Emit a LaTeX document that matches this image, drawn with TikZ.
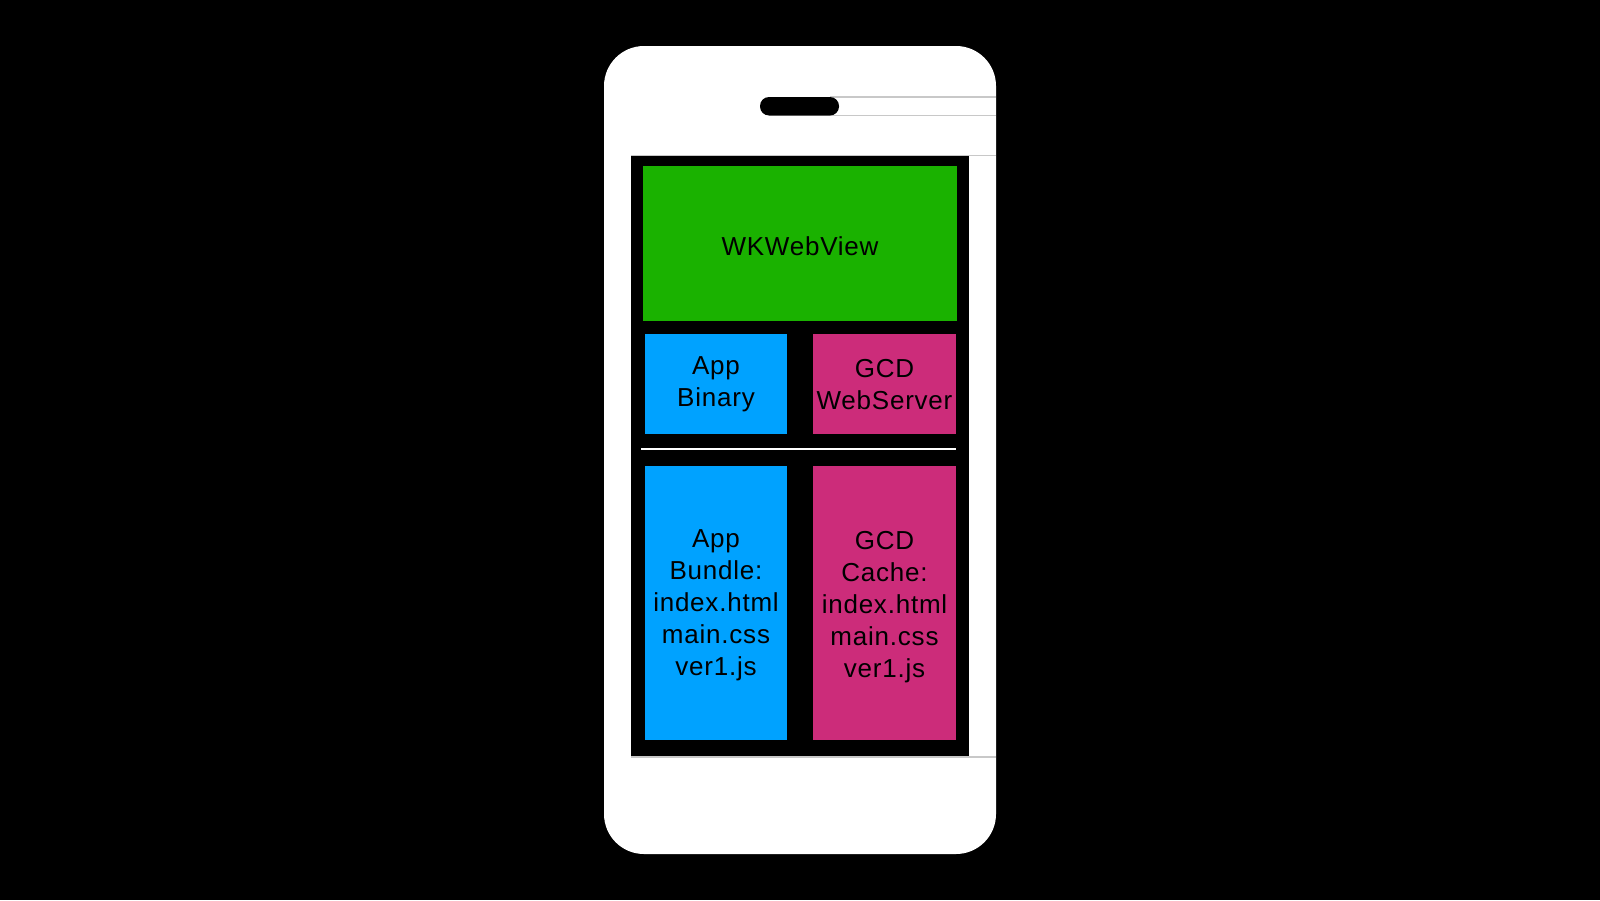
\documentclass[tikz,border=0pt]{standalone}
\usepackage{fontspec}
\setmainfont{Liberation Sans}[LetterSpace=3]
\definecolor{wkgreen}{RGB}{26,178,0}
\definecolor{appblue}{RGB}{0,162,255}
\definecolor{gcdpink}{RGB}{204,44,122}
\definecolor{linegray}{RGB}{200,200,200}
\tikzset{
  box/.style={rectangle, inner sep=0pt},
  lbl/.style={inner sep=0pt, align=center, text=black,
    font=\fontsize{26}{32}\selectfont},
  hline/.style={draw=linegray, line width=1.5pt}
}
\begin{document}
\begin{tikzpicture}[x=1pt,y=-1pt]
  \fill[black] (0,0) rectangle (1600,900);
  \useasboundingbox (0,0) rectangle (1600,900);
  % phone body
  \fill[white, rounded corners=40pt] (604,46) rectangle (996,854);
  % thin gray lines
  \coordinate (l1a) at (830,97);   \coordinate (l1b) at (996,97);
  \coordinate (l2a) at (830,115.5);  \coordinate (l2b) at (996,115.5);
  \coordinate (l3a) at (631,155.5); \coordinate (l3b) at (996,155.5);
  \coordinate (l4a) at (631,757);  \coordinate (l4b) at (996,757);
  \draw[hline] (l1a) -- (l1b);
  \draw[hline] (l2a) -- (l2b);
  \draw[hline] (l3a) -- (l3b);
  \draw[hline] (l4a) -- (l4b);
  % speaker
  \fill[black, rounded corners=9pt] (760,97) rectangle (839,115.5);
  % screen
  \fill[black] (631,156) rectangle (969,756);
  % boxes
  \node[box, fill=wkgreen, minimum width=314pt, minimum height=155pt] (web) at (800,243.5) {};
  \node[box, fill=appblue, minimum width=142pt, minimum height=100pt] (bin) at (716,384) {};
  \node[box, fill=gcdpink, minimum width=143pt, minimum height=100pt] (srv) at (884.5,384) {};
  \coordinate (sepa) at (641,449);
  \coordinate (sepb) at (956,449);
  \draw[white, line width=2pt] (sepa) -- (sepb);
  \node[box, fill=appblue, minimum width=142pt, minimum height=274pt] (bundle) at (716,603) {};
  \node[box, fill=gcdpink, minimum width=143pt, minimum height=274pt] (cache) at (884.5,603) {};
  % labels
  \node[lbl] (webt) at ([yshift=-3pt]web.center) {WKWebView};
  \node[lbl] (bint) at ([yshift=-0.5pt]bin.center) {App\\Binary};
  \node[lbl] (srvt) at ([yshift=-1pt]srv.center) {GCD\\WebServer};
  \node[lbl] (bundlet) at ([yshift=-2.5pt]bundle.center) {App\\Bundle:\\index.html\\main.css\\ver1.js};
  \node[lbl] (cachet) at ([yshift=-4pt]cache.center) {GCD\\Cache:\\index.html\\main.css\\ver1.js};
\end{tikzpicture}
\end{document}
